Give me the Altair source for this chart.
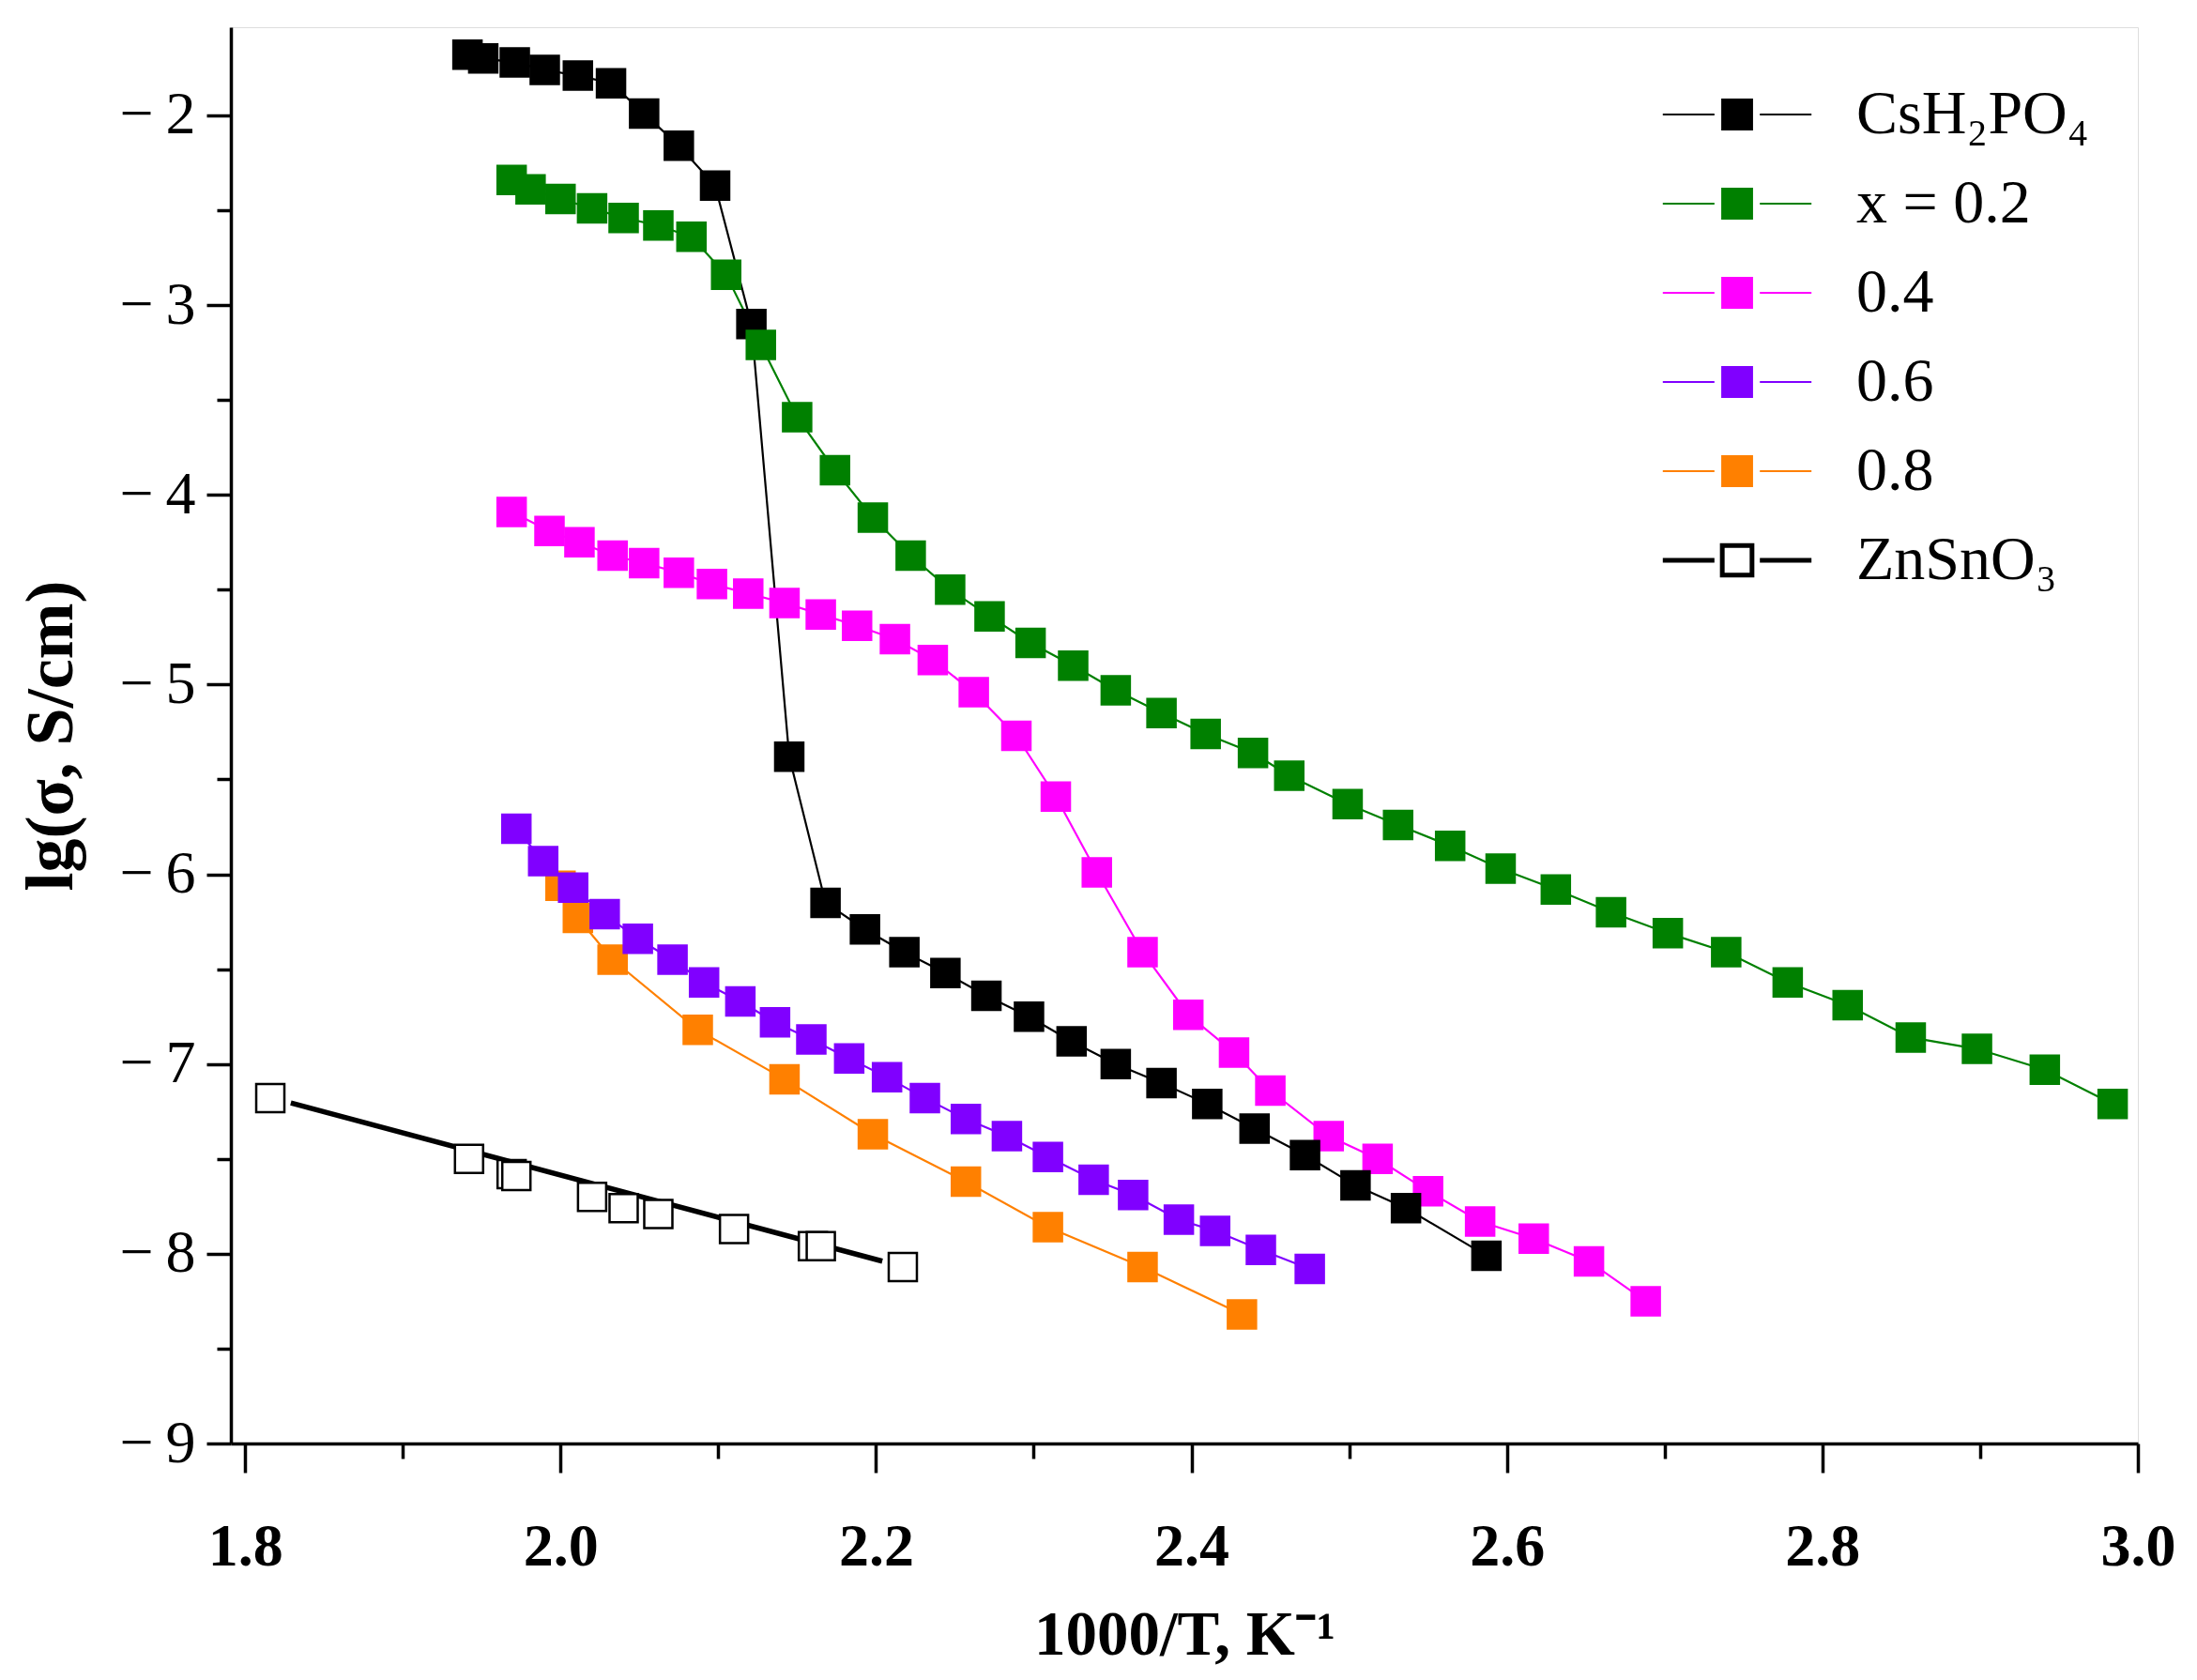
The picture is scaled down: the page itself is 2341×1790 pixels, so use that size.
import pandas as pd
import altair as alt

# -----------------------------
# DATOS
# -----------------------------
names = ["CsH₂PO₄", "x = 0.2", "0.4", "0.6", "0.8", "ZnSnO₃"]
fills = ["#000000", "#008000", "#ff00ff", "#8000ff", "#ff8000", "#ffffff"]
strokes = ["#000000", "#008000", "#ff00ff", "#8000ff", "#ff8000", "#000000"]

cs_x = [1.941, 1.951, 1.971, 1.990, 2.011, 2.032, 2.053, 2.075, 2.098, 2.121, 2.145,
        2.168, 2.193, 2.218, 2.244, 2.270, 2.297, 2.324, 2.352, 2.381, 2.410, 2.440,
        2.472, 2.504, 2.536, 2.587]
cs_y = [-1.68, -1.70, -1.72, -1.76, -1.79, -1.83, -1.99, -2.16, -2.37, -3.10, -5.38,
        -6.15, -6.29, -6.41, -6.52, -6.64, -6.75, -6.88, -7.00, -7.10, -7.21, -7.34,
        -7.48, -7.64, -7.76, -8.01]

x02_x = [1.969, 1.981, 2.000, 2.020, 2.040, 2.062, 2.083, 2.105, 2.127, 2.150, 2.174,
         2.198, 2.222, 2.247, 2.272, 2.298, 2.325, 2.352, 2.381, 2.409, 2.439, 2.462,
         2.499, 2.531, 2.564, 2.596, 2.631, 2.666, 2.702, 2.739, 2.778, 2.816, 2.856,
         2.898, 2.941, 2.984]
x02_y = [-2.34, -2.39, -2.44, -2.49, -2.54, -2.58, -2.64, -2.84, -3.21, -3.59, -3.87,
         -4.12, -4.32, -4.50, -4.64, -4.78, -4.90, -5.03, -5.15, -5.26, -5.36, -5.48,
         -5.63, -5.74, -5.85, -5.97, -6.08, -6.20, -6.31, -6.41, -6.57, -6.69, -6.86,
         -6.92, -7.03, -7.21]

x04_x = [1.969, 1.993, 2.012, 2.033, 2.053, 2.075, 2.096, 2.119, 2.142, 2.165, 2.188,
         2.212, 2.236, 2.262, 2.289, 2.314, 2.340, 2.369, 2.398, 2.427, 2.450, 2.487,
         2.518, 2.550, 2.583, 2.617, 2.652, 2.688]
x04_y = [-4.09, -4.19, -4.25, -4.32, -4.36, -4.41, -4.47, -4.52, -4.57, -4.63, -4.69,
         -4.76, -4.87, -5.04, -5.27, -5.59, -5.99, -6.41, -6.74, -6.94, -7.14, -7.38,
         -7.50, -7.67, -7.83, -7.92, -8.04, -8.25]

x06_x = [1.972, 1.989, 2.008, 2.028, 2.049, 2.071, 2.091, 2.114, 2.136, 2.159, 2.183,
         2.207, 2.231, 2.257, 2.283, 2.309, 2.338, 2.363, 2.392, 2.415, 2.444, 2.475]
x06_y = [-5.76, -5.93, -6.07, -6.21, -6.34, -6.45, -6.57, -6.67, -6.78, -6.87, -6.97,
         -7.07, -7.18, -7.29, -7.38, -7.49, -7.61, -7.69, -7.82, -7.88, -7.98, -8.08]

x08_x = [2.000, 2.011, 2.033, 2.087, 2.142, 2.198, 2.257, 2.309, 2.369, 2.432]
x08_y = [-6.06, -6.23, -6.45, -6.82, -7.08, -7.37, -7.62, -7.86, -8.07, -8.32]

zn_x = [1.816, 1.942, 1.969, 1.972, 2.020, 2.040, 2.062, 2.110, 2.160, 2.165, 2.217]
zn_y = [-7.18, -7.50, -7.58, -7.59, -7.70, -7.76, -7.79, -7.87, -7.96, -7.96, -8.07]

# recta de ajuste de ZnSnO3
zn_fit_x = [1.829, 2.204]
zn_fit_y = [-7.205, -8.039]

# -----------------------------
# TABLAS
# -----------------------------
series = {
    "CsH₂PO₄": (cs_x, cs_y),
    "x = 0.2": (x02_x, x02_y),
    "0.4": (x04_x, x04_y),
    "0.6": (x06_x, x06_y),
    "0.8": (x08_x, x08_y),
    "ZnSnO₃": (zn_x, zn_y),
}

# orden de dibujo de los marcadores (el último queda encima)
draw_order = ["ZnSnO₃", "0.8", "0.6", "0.4", "CsH₂PO₄", "x = 0.2"]
pts = pd.concat(
    [pd.DataFrame({"series": s, "x": series[s][0], "y": series[s][1]}) for s in draw_order],
    ignore_index=True,
)

lines = pd.concat(
    [pd.DataFrame({"series": s, "x": series[s][0], "y": series[s][1]})
     for s in draw_order if s != "ZnSnO₃"]
    + [pd.DataFrame({"series": "ZnSnO₃", "x": zn_fit_x, "y": zn_fit_y})],
    ignore_index=True,
)

# -----------------------------
# EJES Y ESCALAS
# -----------------------------
x_ticks = [round(1.8 + 0.1 * i, 1) for i in range(13)]
y_ticks = [-9 + 0.5 * i for i in range(15)]

x_scale = alt.Scale(domain=[1.791, 3.0], nice=False, zero=False)
y_scale = alt.Scale(domain=[-9, -1.535], nice=False, zero=False)

x_axis = alt.Axis(
    values=x_ticks,
    labelExpr="round(datum.value*10) % 2 == 0 ? format(datum.value, '.1f') : ''",
    tickSize={"condition": {"test": "round(datum.value*10) % 2 == 1", "value": 16}, "value": 31},
    grid=False,
    domainWidth=3.5, domainColor="black",
    tickWidth=3.5, tickColor="black",
    labelFont="Liberation Serif", labelFontSize=64, labelFontWeight="bold", labelColor="black",
    labelPadding=47, labelFlush=False, labelOverlap=False,
    title="1000/T, K⁻¹",
    titleFont="Liberation Serif", titleFontSize=67, titleFontWeight="bold", titleColor="black",
    titlePadding=29,
)
y_axis = alt.Axis(
    values=y_ticks,
    labelExpr="datum.value % 1 == 0 ? '−\u2009' + abs(datum.value) : ''",
    tickSize={"condition": {"test": "datum.value % 1 != 0", "value": 15}, "value": 26},
    grid=False,
    domainWidth=3.5, domainColor="black",
    tickWidth=3.5, tickColor="black",
    labelFont="Liberation Serif", labelFontSize=64, labelColor="black",
    labelPadding=12, labelFlush=False, labelOverlap=False,
    title="lg(σ, S/cm)",
    titleFont="Liberation Serif", titleFontSize=72, titleFontWeight="bold", titleColor="black",
    titlePadding=36,
)

legend = alt.Legend(
    title=None,
    orient="none",
    legendX=1572,
    legendY=60,
    padding=0,
    symbolType="M-3.6,0H-1.1M1.1,0H3.6M-0.72,-0.72H0.72V0.72H-0.72Z",
    symbolSize=1936,
    symbolStrokeWidth={"expr": "datum.value == 'ZnSnO₃' ? 5 : 2.2"},
    symbolOpacity=1,
    labelFont="Liberation Serif",
    labelFontSize=66,
    labelColor="black",
    labelOffset=94,
    rowPadding=29,
    labelLimit=600,
)

fill_scale = alt.Scale(domain=names, range=fills)
stroke_scale = alt.Scale(domain=names, range=strokes)

# -----------------------------
# CAPAS
# -----------------------------
line_layer = alt.Chart(lines).mark_line(opacity=1).encode(
    x=alt.X("x:Q", scale=x_scale, axis=x_axis),
    y=alt.Y("y:Q", scale=y_scale, axis=y_axis),
    stroke=alt.Stroke("series:N", scale=stroke_scale, legend=legend),
    strokeWidth=alt.condition("datum.series == 'ZnSnO₃'", alt.value(5.5), alt.value(2.2)),
    detail="series:N",
)

point_layer = alt.Chart(pts).mark_square(opacity=1, strokeWidth=2.5, size=900).encode(
    x=alt.X("x:Q", scale=x_scale, axis=x_axis),
    y=alt.Y("y:Q", scale=y_scale, axis=y_axis),
    fill=alt.Fill("series:N", scale=fill_scale, legend=legend),
    stroke=alt.Stroke("series:N", scale=stroke_scale, legend=legend),
)

chart = alt.layer(line_layer, point_layer).properties(
    width=2032,
    height=1509,
    padding={"left": 238, "top": 21, "right": 55, "bottom": 240},
    autosize=alt.AutoSizeParams(type="none"),
).configure_view(
    stroke=None
).configure(
    background="white"
)

chart.save("out.html", embed_options={"renderer": "svg", "actions": False})
